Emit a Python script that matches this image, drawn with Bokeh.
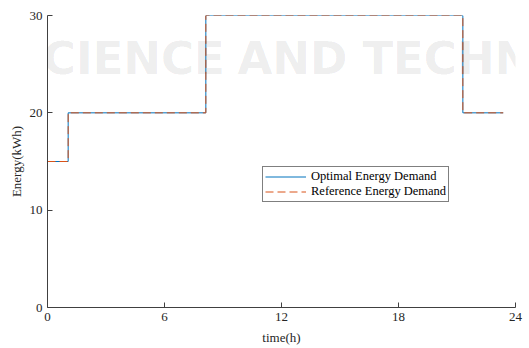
from bokeh.plotting import figure
from bokeh.models import Range1d, FixedTicker, Legend, LegendItem, Label
from bokeh.embed import file_html
from bokeh.resources import INLINE

# data
time_h = [0, 1.06, 8.12, 21.3, 23.37]
optimal_energy = [15, 20, 30, 20, 20]
reference_energy = [15, 20, 30, 20, 20]
x_ticks = [0, 6, 12, 18, 24]
y_ticks = [0, 10, 20, 30]
watermark_words = ["SCIENCE", "AND", "TECHNOLOGY"]
watermark_x = [-1.9, 9.74, 16.15]

FONT = "Liberation Serif"

p = figure(width=529, height=348, output_backend="svg", toolbar_location=None,
           x_range=Range1d(0, 24), y_range=Range1d(0, 30),
           min_border_left=47, min_border_right=14, min_border_top=15, min_border_bottom=41)
p.outline_line_color = None
p.grid.visible = False
p.background_fill_color = "white"
p.border_fill_color = "white"

r1 = p.step(time_h, optimal_energy, mode="after", line_color="#0072BD", line_width=1)
r2 = p.step(time_h, reference_energy, mode="after", line_color="#D95319", line_width=1,
            line_dash="8 4")

for w, xw in zip(watermark_words, watermark_x):
    p.add_layout(Label(x=xw, y=25.6, text=w, text_font="DejaVu Sans", text_font_style="bold",
                       text_font_size="45px", text_color="black", text_alpha=0.08,
                       text_baseline="middle", level="annotation"))

for ax in (p.xaxis[0], p.yaxis[0]):
    ax.major_tick_in = 5
    ax.major_tick_out = 0
    ax.minor_tick_line_color = None
    ax.axis_line_color = "#404040"
    ax.major_tick_line_color = "#404040"
    ax.major_label_text_font = FONT
    ax.major_label_text_font_size = "13px"
    ax.major_label_text_color = "#262626"
    ax.axis_label_text_font = FONT
    ax.axis_label_text_font_size = "13px"
    ax.axis_label_text_font_style = "normal"
    ax.axis_label_text_color = "#262626"

p.xaxis.ticker = FixedTicker(ticks=x_ticks)
p.yaxis.ticker = FixedTicker(ticks=y_ticks)
p.xaxis.axis_label = "time(h)"
p.yaxis.axis_label = "Energy(kWh)"
p.xaxis.major_label_standoff = 5
p.xaxis.axis_label_standoff = 6
p.yaxis.major_label_standoff = 5
p.yaxis.axis_label_standoff = 3

legend = Legend(items=[LegendItem(label="Optimal Energy Demand", renderers=[r1]),
                       LegendItem(label="Reference Energy Demand", renderers=[r2])],
                location=(215, 105), padding=2, spacing=0, margin=0,
                label_height=15, glyph_height=15, glyph_width=41, label_standoff=5,
                label_text_font=FONT, label_text_font_size="12.5px", label_text_color="#000000",
                border_line_color="#000000", border_line_width=0.7,
                background_fill_color="white", background_fill_alpha=1)
p.add_layout(legend)

open("out.html", "w").write(file_html(p, INLINE))
